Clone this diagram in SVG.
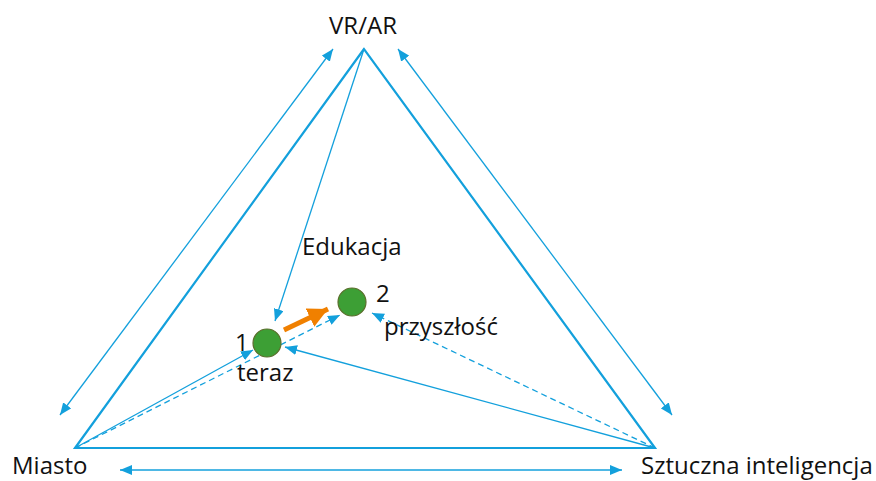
<svg xmlns="http://www.w3.org/2000/svg" width="876" height="481" viewBox="0 0 876 481">
<style>
.tri{fill:none;stroke:#13a0dc;stroke-width:2.2;stroke-linejoin:miter}
.ln{fill:none;stroke:#13a0dc;stroke-width:1.3}
.dash{stroke-dasharray:6 4}
.lbl{font-family:"Open Sans","Liberation Sans",sans-serif;font-size:24px;fill:#111}
.node{fill:#3d9f35;stroke:#5b6e2c;stroke-width:1.2}
</style>
<defs>
<marker id="ah" viewBox="0 0 12 10" refX="12" refY="5" markerWidth="12" markerHeight="10" markerUnits="userSpaceOnUse" orient="auto-start-reverse">
<path d="M0,0 L12,5 L0,10 z" fill="#13a0dc"/>
</marker>
<marker id="ao" viewBox="0 0 10 10" refX="10" refY="5" markerWidth="4" markerHeight="4" orient="auto">
<path d="M0,0 L10,5 L0,10 z" fill="#f08000"/>
</marker>
</defs>
<g id="connectors">
<polygon class="tri" points="364,49 75,448 655,448"/>
<line class="ln" x1="60" y1="415" x2="333" y2="49" marker-start="url(#ah)" marker-end="url(#ah)"/>
<line class="ln" x1="398" y1="49" x2="672" y2="415" marker-start="url(#ah)" marker-end="url(#ah)"/>
<line class="ln" x1="120" y1="470" x2="622" y2="470" marker-start="url(#ah)" marker-end="url(#ah)"/>
<line class="ln" x1="364" y1="49" x2="275" y2="321" marker-end="url(#ah)"/>
<line class="ln" x1="75" y1="448" x2="253" y2="350" marker-end="url(#ah)"/>
<line class="ln dash" x1="75" y1="448" x2="340" y2="315" marker-end="url(#ah)"/>
<line class="ln" x1="655" y1="448" x2="285" y2="347" marker-end="url(#ah)"/>
<line class="ln dash" x1="655" y1="448" x2="372" y2="313" marker-end="url(#ah)"/>
<line x1="284" y1="330" x2="328" y2="309" stroke="#f08000" stroke-width="5" marker-end="url(#ao)"/>
</g>
<g id="vrar"><text class="lbl" x="363" y="34" text-anchor="middle">VR/AR</text></g>
<g id="miasto"><text class="lbl" x="12" y="474">Miasto</text></g>
<g id="ai"><text class="lbl" x="641" y="474">Sztuczna inteligencja</text></g>
<g id="edukacja"><text class="lbl" x="302" y="255">Edukacja</text></g>
<g id="n1"><circle class="node" cx="267" cy="343" r="14"/><text class="lbl" x="235" y="351">1</text><text class="lbl" x="237" y="381">teraz</text></g>
<g id="n2"><circle class="node" cx="352" cy="302" r="14"/><text class="lbl" x="376" y="302">2</text><text class="lbl" x="384" y="335">przyszłość</text></g>
</svg>
